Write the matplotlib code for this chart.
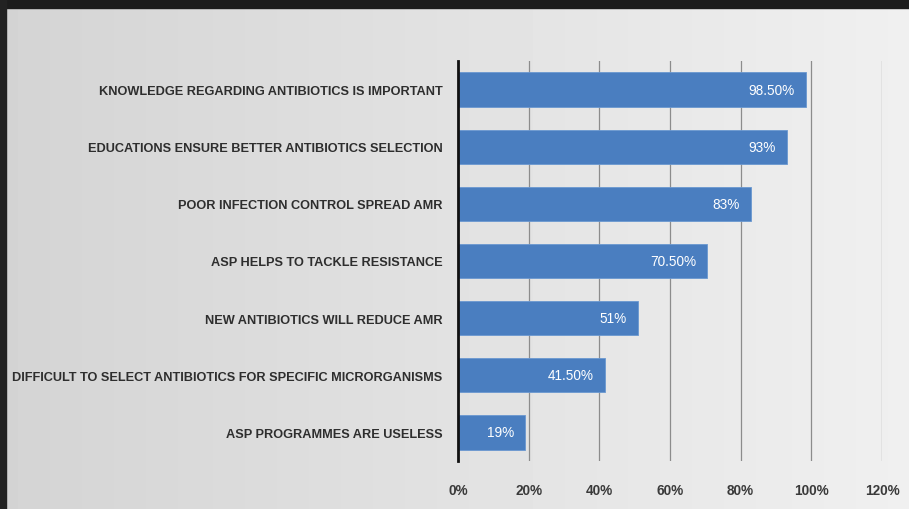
import numpy as np
import matplotlib
matplotlib.use("Agg")
import matplotlib.pyplot as plt

# --- dati ---
categories = [
    "KNOWLEDGE REGARDING ANTIBIOTICS IS IMPORTANT",
    "EDUCATIONS ENSURE BETTER ANTIBIOTICS SELECTION",
    "POOR INFECTION CONTROL SPREAD AMR",
    "ASP HELPS TO TACKLE RESISTANCE",
    "NEW ANTIBIOTICS WILL REDUCE AMR",
    "DIFFICULT TO SELECT ANTIBIOTICS FOR SPECIFIC MICRORGANISMS",
    "ASP PROGRAMMES ARE USELESS",
]
values = [98.5, 93, 83, 70.5, 51, 41.5, 19]
value_labels = ["98.50%", "93%", "83%", "70.50%", "51%", "41.50%", "19%"]
x_ticks = [0, 20, 40, 60, 80, 100, 120]

font = "Liberation Sans"

fig = plt.figure(figsize=(9.09, 5.10), dpi=100)

# sfondo grigio con leggero gradiente + cornice scura
bg = fig.add_axes([0, 0, 1, 1], zorder=-10)
grad = np.linspace(0.83, 0.94, 256)[None, :] * np.ones((64, 1))
bg.imshow(grad, cmap="gray", vmin=0, vmax=1, aspect="auto", extent=[0, 1, 0, 1])
bg.add_patch(plt.Rectangle((0, 1 - 9 / 510), 1, 9 / 510, color="#1c1c1c"))
bg.add_patch(plt.Rectangle((0, 0), 6 / 909, 1, color="#222222"))
bg.set_xlim(0, 1)
bg.set_ylim(0, 1)
bg.axis("off")

ax = fig.add_axes([458 / 909, 1 - 462 / 510, (882 - 458) / 909, 400 / 510])
ax.patch.set_alpha(0)

y = np.arange(len(categories))
ax.barh(y, values, height=0.6, color="#4a7ec0", edgecolor="#6a98d0", linewidth=0.6, zorder=3)

for yi, v, lab in zip(y, values, value_labels):
    ax.annotate(lab, (v, yi), xytext=(-8, 0), textcoords="offset points",
                ha="right", va="center", color="white", fontsize=9.8,
                family=font, zorder=4)

ax.set_xlim(0, 120)
ax.set_ylim(len(categories) - 0.5, -0.5)
ax.set_xticks(x_ticks)
ax.set_xticklabels([f"{t}%" for t in x_ticks], fontsize=9.8, fontweight="bold",
                   color="#3a3a3a", family=font)
ax.set_yticks(y)
ax.set_yticklabels(categories, fontsize=9.2, fontweight="bold", color="#2e2e2e", family=font)
ax.tick_params(axis="x", length=0, pad=16)
ax.tick_params(axis="y", length=0, pad=11)

ax.grid(axis="x", color="#8c8c8c", linewidth=0.9, zorder=0)
for s in ["top", "right", "bottom"]:
    ax.spines[s].set_visible(False)
ax.spines["left"].set_color("#111111")
ax.spines["left"].set_linewidth(2)
ax.spines["left"].set_zorder(5)

fig.savefig("out.png", dpi=100)
